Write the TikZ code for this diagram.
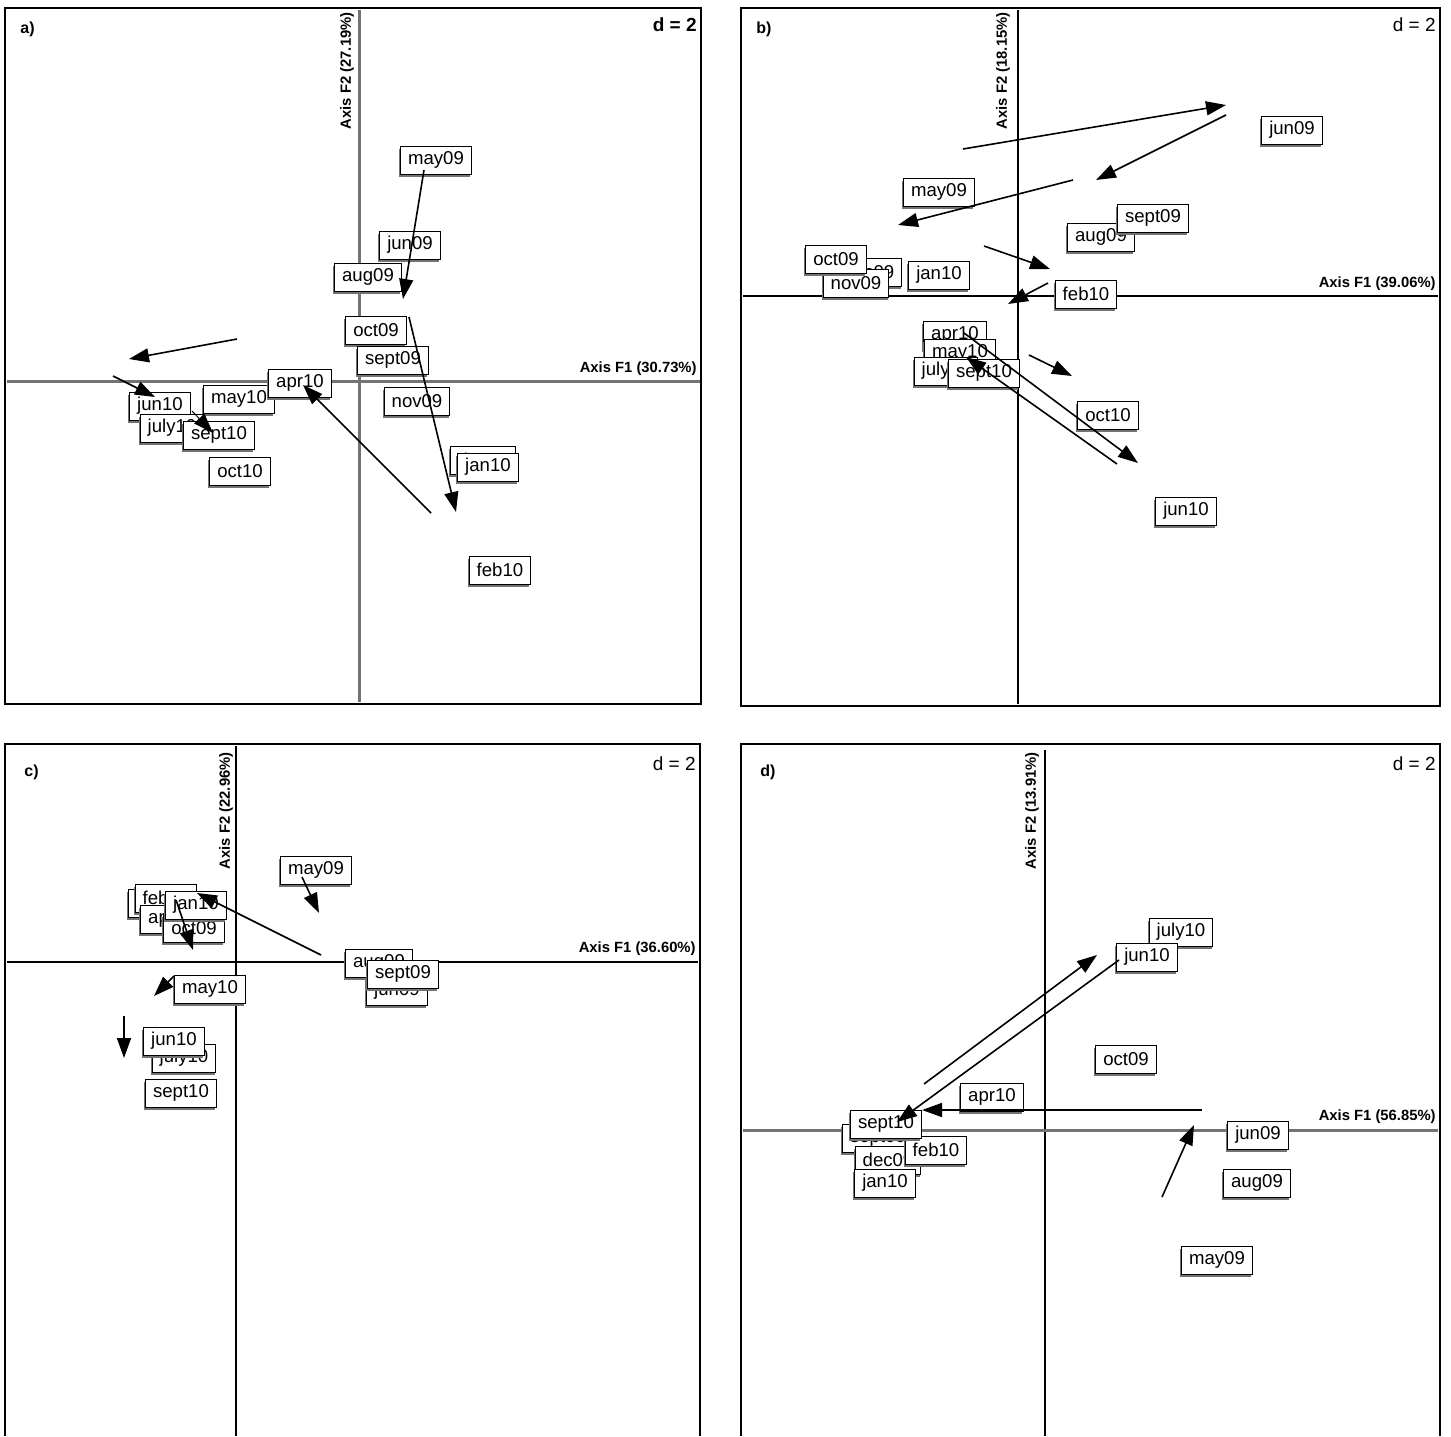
\documentclass[tikz,border=0pt]{standalone}
\usepackage{fontspec}
\newfontfamily\labfont{Liberation Sans}
\usetikzlibrary{arrows.meta,shadows}

\tikzset{
  lab/.style={draw, fill=white, line width=0.5pt, font=\labfont\fontsize{9.3}{10}\selectfont,
    inner xsep=3.8pt, inner ysep=0pt, minimum height=14pt,
    general shadow={shadow xshift=-0.7pt, shadow yshift=-1.5pt, fill=black!55}},
  trend/.style={-{Triangle[length=10pt,width=7pt]}, line width=0.8pt},
  panelbox/.style={line width=1pt},
  axline/.style={line width=0.9pt},
  axgray/.style={line width=1.5pt, black!55},
  axtext/.style={font=\labfont\bfseries\fontsize{7.4}{8}\selectfont, inner sep=0pt},
  tag/.style={font=\labfont\bfseries\fontsize{8}{9}\selectfont, anchor=north west, inner sep=0pt},
  dtext/.style={font=\labfont\fontsize{9.5}{10}\selectfont, anchor=north east, inner sep=0pt},
}

\begin{document}
\begin{tikzpicture}[x=0.5pt,y=-0.5pt]
  \useasboundingbox (0,0) rectangle (1451,1436);

  % panel a
  \draw[panelbox] (5,8) rectangle (701,704);
  \draw[axgray] (359,10) -- (359,702);
  \draw[axgray] (7,381) -- (700,381);
  \node[tag] (atag) at (20,22) {a)};
  \node[dtext, font=\labfont\bfseries\fontsize{9.5}{10}\selectfont] (ad) at (697,17) {d = 2};
  \node[axtext, rotate=90, anchor=east] (ay) at (347,12) {Axis F2 (27.19\%)};
  \node[axtext, anchor=south east] (ax) at (697,376) {Axis F1 (30.73\%)};
  \node[lab] (amay09) at (436,160) {may09};
  \node[lab] (ajun09) at (410,245) {jun09};
  \node[lab] (aaug09) at (368,277) {aug09};
  \node[lab] (aoct09) at (376,330) {oct09};
  \node[lab] (asept09) at (393,360) {sept09};
  \node[lab] (anov09) at (417,401) {nov09};
  \node[lab] (adec09) at (483,460) {dec09};
  \node[lab] (ajan10) at (488,467) {jan10};
  \node[lab] (afeb10) at (500,570) {feb10};
  \node[lab] (amay10) at (239,399) {may10};
  \node[lab] (aapr10) at (300,383) {apr10};
  \node[lab] (ajun10) at (160,406) {jun10};
  \node[lab] (ajuly10) at (172,428) {july10};
  \node[lab] (asept10) at (219,435) {sept10};
  \node[lab] (aoct10) at (240,471) {oct10};
  \coordinate (a1) at (424,170); \coordinate (a2) at (403,299);
  \coordinate (a3) at (409,317); \coordinate (a4) at (456,512);
  \coordinate (a5) at (431,513); \coordinate (a6) at (303,385);
  \coordinate (a7) at (237,339); \coordinate (a8) at (129,359);
  \coordinate (a9) at (113,376); \coordinate (a10) at (155,397);
  \coordinate (a11) at (192,411); \coordinate (a12) at (213,433);
  \draw[trend] (a1) -- (a2);
  \draw[trend] (a3) -- (a4);
  \draw[trend] (a5) -- (a6);
  \draw[trend] (a7) -- (a8);
  \draw[trend] (a9) -- (a10);
  \draw[trend, line width=0.5pt] (a11) -- (a12);

  % panel b
  \draw[panelbox] (741,8) rectangle (1440,706);
  \draw[axline] (1018,10) -- (1018,704);
  \draw[axline] (743,296) -- (1438,296);
  \node[tag] (btag) at (756,22) {b)};
  \node[dtext] (bd) at (1436,17) {d = 2};
  \node[axtext, rotate=90, anchor=east] (by) at (1003,12) {Axis F2 (18.15\%)};
  \node[axtext, anchor=south east] (bx) at (1436,291) {Axis F1 (39.06\%)};
  \node[lab] (bjun09) at (1292,130) {jun09};
  \node[lab] (bmay09) at (939,192) {may09};
  \node[lab] (baug09) at (1101,237) {aug09};
  \node[lab] (bsept09) at (1153,218) {sept09};
  \node[lab] (bdec09) at (869,272) {dec09};
  \node[lab] (bnov09) at (856,283) {nov09};
  \node[lab] (boct09) at (836,259) {oct09};
  \node[lab] (bjan10) at (939,275) {jan10};
  \node[lab] (bfeb10) at (1086,294) {feb10};
  \node[lab] (bapr10) at (955,335) {apr10};
  \node[lab] (bmay10) at (960,353) {may10};
  \node[lab] (bjuly10) at (946,371) {july10};
  \node[lab] (bsept10) at (984,373) {sept10};
  \node[lab] (boct10) at (1108,415) {oct10};
  \node[lab] (bjun10) at (1186,511) {jun10};
  \coordinate (b1) at (963,149); \coordinate (b2) at (1226,105);
  \coordinate (b3) at (1226,115); \coordinate (b4) at (1096,180);
  \coordinate (b5) at (1073,180); \coordinate (b6) at (898,225);
  \coordinate (b7) at (984,246); \coordinate (b8) at (1050,269);
  \coordinate (b9) at (1048,283); \coordinate (b10) at (1008,304);
  \coordinate (b11) at (964,333); \coordinate (b12) at (1138,463);
  \coordinate (b13) at (1117,464); \coordinate (b14) at (966,357);
  \coordinate (b15) at (1029,355); \coordinate (b16) at (1072,376);
  \draw[trend] (b1) -- (b2);
  \draw[trend] (b3) -- (b4);
  \draw[trend] (b5) -- (b6);
  \draw[trend] (b7) -- (b8);
  \draw[trend] (b9) -- (b10);
  \draw[trend] (b11) -- (b12);
  \draw[trend] (b13) -- (b14);
  \draw[trend] (b15) -- (b16);

  % panel c
  \draw[panelbox] (5,1436) -- (5,744) -- (700,744) -- (700,1436);
  \draw[axline] (236,746) -- (236,1436);
  \draw[axline] (7,962) -- (698,962);
  \node[tag] (ctag) at (24,764) {c)};
  \node[dtext] (cd) at (696,756) {d = 2};
  \node[axtext, rotate=90, anchor=east] (cy) at (226,752) {Axis F2 (22.96\%)};
  \node[axtext, anchor=south east] (cx) at (696,956) {Axis F1 (36.60\%)};
  \node[lab] (cmay09) at (316,870) {may09};
  \node[lab] (cdec09) at (161,903) {dec09};
  \node[lab] (cfeb10) at (166,898) {feb10};
  \node[lab] (capr10) at (172,919) {apr10};
  \node[lab] (coct09) at (194,928) {oct09};
  \node[lab] (cjan10) at (196,905) {jan10};
  \node[lab] (caug09) at (379,963) {aug09};
  \node[lab] (cjun09) at (397,991) {jun09};
  \node[lab] (csept09) at (403,974) {sept09};
  \node[lab] (cmay10) at (210,989) {may10};
  \node[lab] (cjuly10) at (184,1058) {july10};
  \node[lab] (cjun10) at (174,1041) {jun10};
  \node[lab] (csept10) at (181,1093) {sept10};
  \coordinate (c1) at (302,877); \coordinate (c2) at (319,913);
  \coordinate (c3) at (321,955); \coordinate (c4) at (197,893);
  \coordinate (c5) at (176,900); \coordinate (c6) at (193,950);
  \coordinate (c7) at (174,976); \coordinate (c8) at (154,996);
  \coordinate (c9) at (124,1016); \coordinate (c10) at (124,1058);
  \draw[trend] (c1) -- (c2);
  \draw[trend] (c3) -- (c4);
  \draw[trend] (c5) -- (c6);
  \draw[trend] (c7) -- (c8);
  \draw[trend] (c9) -- (c10);

  % panel d
  \draw[panelbox] (741,1436) -- (741,744) -- (1440,744) -- (1440,1436);
  \draw[axline] (1045,750) -- (1045,1436);
  \draw[axgray] (743,1130) -- (1438,1130);
  \node[tag] (dtag) at (760,764) {d)};
  \node[dtext] (dd) at (1436,756) {d = 2};
  \node[axtext, rotate=90, anchor=east] (dy) at (1032,752) {Axis F2 (13.91\%)};
  \node[axtext, anchor=south east] (dx) at (1436,1124) {Axis F1 (56.85\%)};
  \node[lab] (djuly10) at (1181,932) {july10};
  \node[lab] (djun10) at (1147,957) {jun10};
  \node[lab] (doct09) at (1126,1059) {oct09};
  \node[lab] (dapr10) at (992,1097) {apr10};
  \node[lab] (dsept09) at (878,1138) {sept09};
  \node[lab] (ddec09) at (888,1160) {dec09};
  \node[lab] (djan10) at (885,1183) {jan10};
  \node[lab] (dfeb10) at (936,1150) {feb10};
  \node[lab] (dsept10) at (886,1124) {sept10};
  \node[lab] (djun09) at (1258,1135) {jun09};
  \node[lab] (daug09) at (1257,1183) {aug09};
  \node[lab] (dmay09) at (1217,1260) {may09};
  \coordinate (d1) at (924,1084); \coordinate (d2) at (1097,955);
  \coordinate (d3) at (1119,960); \coordinate (d4) at (897,1122);
  \coordinate (d5) at (1202,1110); \coordinate (d6) at (922,1110);
  \coordinate (d7) at (1162,1197); \coordinate (d8) at (1194,1125);
  \draw[trend] (d1) -- (d2);
  \draw[trend] (d3) -- (d4);
  \draw[trend] (d5) -- (d6);
  \draw[trend] (d7) -- (d8);
\end{tikzpicture}
\end{document}
